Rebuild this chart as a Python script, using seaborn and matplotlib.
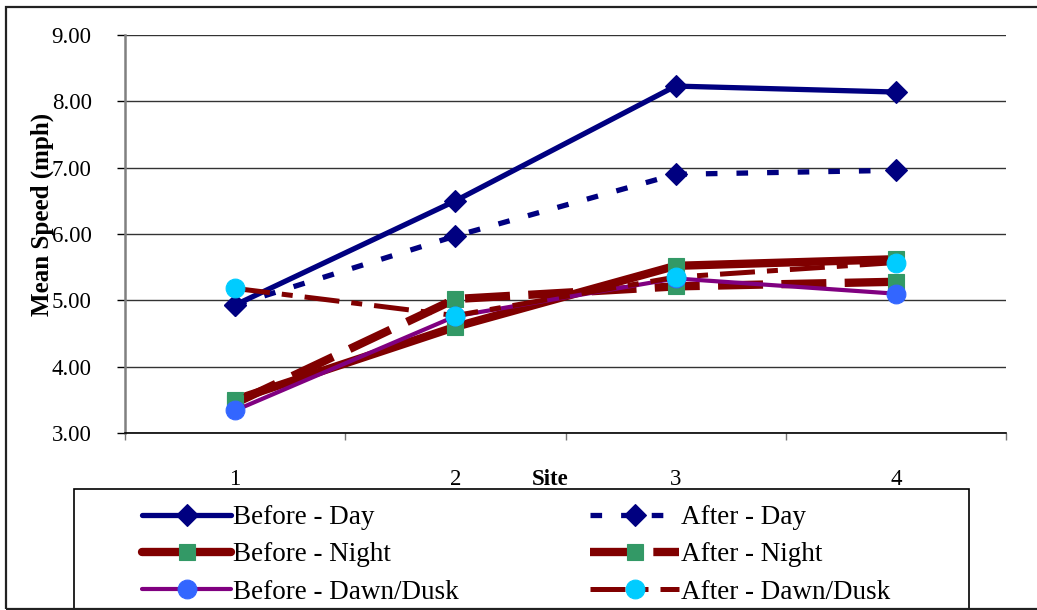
import matplotlib
matplotlib.use("Agg")
import matplotlib.pyplot as plt
import seaborn as sns
from matplotlib.patches import Rectangle
from matplotlib.ticker import FixedLocator, FixedFormatter, NullFormatter, FormatStrFormatter

# Mean speed (mph) per site, before / after, by time of day
sites = ["1", "2", "3", "4"]
before_day = [4.93, 6.50, 8.23, 8.14]
after_day = [4.93, 5.97, 6.90, 6.96]
before_night = [3.50, 4.60, 5.52, 5.62]
after_night = [3.45, 5.02, 5.21, 5.28]
before_dawn_dusk = [3.34, 4.76, 5.33, 5.10]
after_dawn_dusk = [5.18, 4.77, 5.35, 5.57]
y_ticks = [3, 4, 5, 6, 7, 8, 9]

sns.set_theme(style="white")
plt.rcParams["font.family"] = ["Liberation Serif", "DejaVu Serif"]

W, H = 1037, 610
fig = plt.figure(figsize=(W / 100, H / 100), dpi=100)
ax = fig.add_axes([125 / W, 1 - 433 / H, (1006 - 125) / W, (433 - 35) / H])

navy, maroon, purple = "#000080", "#800000", "#800080"
green, blue, cyan = "#339966", "#3366FF", "#00CCFF"

series = [
    ("Before - Day", before_day,
     dict(color=navy, linewidth=3.8, linestyle="-", marker="D", markersize=11,
          markerfacecolor=navy, markeredgecolor=navy)),
    ("After - Day", after_day,
     dict(color=navy, linewidth=3.8, linestyle=(0, (2.2, 3.6)), marker="D", markersize=11,
          markerfacecolor=navy, markeredgecolor=navy)),
    ("Before - Night", before_night,
     dict(color=maroon, linewidth=6.0, linestyle="-", marker="s", markersize=11.5,
          markerfacecolor=green, markeredgecolor=green)),
    ("After - Night", after_night,
     dict(color=maroon, linewidth=6.0, linestyle=(0, (5.4, 2.2)), marker="s", markersize=11.5,
          markerfacecolor=green, markeredgecolor=green)),
    ("Before - Dawn/Dusk", before_dawn_dusk,
     dict(color=purple, linewidth=3.0, linestyle="-", marker="o", markersize=13.5,
          markerfacecolor=blue, markeredgecolor=blue)),
    ("After - Dawn/Dusk", after_dawn_dusk,
     dict(color=maroon, linewidth=3.6, linestyle=(0, (7.0, 2.4, 2.2, 2.4)), marker="o",
          markersize=13.5, markerfacecolor=cyan, markeredgecolor=cyan)),
]

handles = []
for i, (label, values, style) in enumerate(series):
    sns.lineplot(x=sites, y=values, ax=ax, label=label, markeredgewidth=0.8,
                 zorder=3 + i, clip_on=False, **style)
    handles.append(ax.get_lines()[-1])
if ax.get_legend() is not None:
    ax.get_legend().remove()

# Axes limits and ticks
ax.set_xlim(-0.5, 3.5)
ax.set_ylim(3, 9)
ax.yaxis.set_major_locator(FixedLocator(y_ticks))
ax.yaxis.set_major_formatter(FormatStrFormatter("%.2f"))
ax.xaxis.set_major_locator(FixedLocator([-0.5, 0.5, 1.5, 2.5, 3.5]))
ax.xaxis.set_major_formatter(NullFormatter())
ax.xaxis.set_minor_locator(FixedLocator(range(len(sites))))
ax.xaxis.set_minor_formatter(FixedFormatter(sites))

ax.tick_params(axis="y", which="major", direction="out", left=True, length=6, width=1,
               color="black", pad=18, labelsize=16.5, labelcolor="black")
ax.tick_params(axis="x", which="major", direction="out", bottom=True, length=5, width=1,
               color="#777777")
ax.tick_params(axis="x", which="minor", bottom=True, length=0, pad=26, labelsize=16.5,
               labelcolor="black")

ax.yaxis.grid(True, color="#333333", linewidth=1.0)
ax.xaxis.grid(False)
ax.set_axisbelow(True)
for side in ("top", "right"):
    ax.spines[side].set_visible(False)
ax.spines["bottom"].set_color("black")
ax.spines["bottom"].set_linewidth(1.2)
ax.spines["left"].set_color("#808080")
ax.spines["left"].set_linewidth(1.8)

ax.set_xlabel("Site", fontsize=16.5, fontweight="bold", color="black")
ax.xaxis.set_label_coords((550 - 125) / (1006 - 125), (433 - 469) / (433 - 35))
ax.set_ylabel("Mean Speed (mph)", fontsize=18, fontweight="bold", color="black")
ax.yaxis.set_label_coords((42 - 125) / (1006 - 125), (433 - 214) / (433 - 35))
ax.yaxis.label.set_verticalalignment("center")

# Legend: filled column by column, so order for row-wise reading
order = [0, 2, 4, 1, 3, 5]
leg = fig.legend([handles[k] for k in order], [series[k][0] for k in order], ncol=2,
                 loc="upper left", bbox_to_anchor=(142 / W, 1 - 505 / H), frameon=False,
                 fontsize=19.5, handlelength=3.3, handletextpad=0.05, columnspacing=4.85,
                 labelspacing=0.46, borderpad=0, borderaxespad=0)
for t in leg.get_texts():
    t.set_color("black")

# Legend box and outer chart frame
fig.patches.append(Rectangle((74 / W, -0.05), (969 - 74) / W, 0.05 + 1 - 489 / H,
                             transform=fig.transFigure, fill=False, edgecolor="black",
                             linewidth=1.2, clip_on=False))
fig.patches.append(Rectangle((6 / W, 1 - 609 / H), 1.2, (609 - 7) / H,
                             transform=fig.transFigure, fill=False, edgecolor="#222222",
                             linewidth=1.6, clip_on=False))

fig.savefig("out.png", dpi=100, facecolor="white")
